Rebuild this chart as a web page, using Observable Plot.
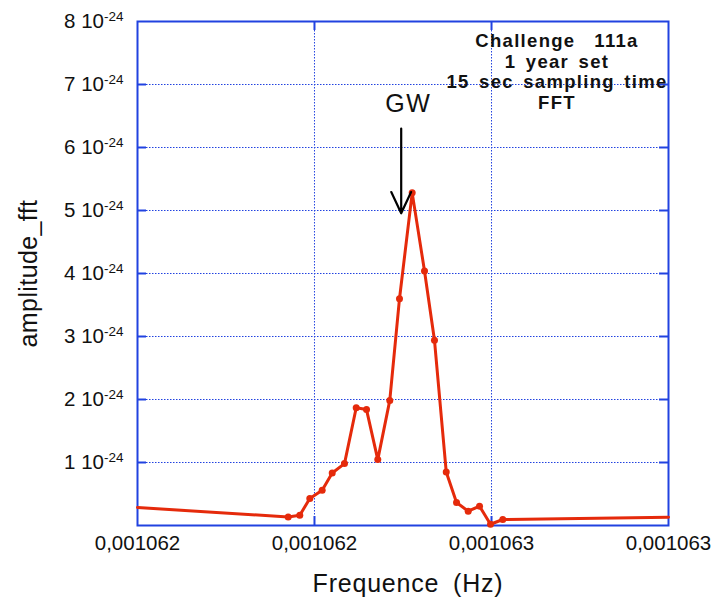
<!DOCTYPE html>
<html>
<head>
<meta charset="utf-8">
<script src="https://cdn.jsdelivr.net/npm/d3@7"></script>
<script src="https://cdn.jsdelivr.net/npm/@observablehq/plot@0.6"></script>
<style>
  html, body { margin: 0; padding: 0; background: #fff; }
  #chart svg { overflow: visible; }
</style>
</head>
<body>
<div id="chart"></div>
<script>
// ---- data ----
const xDomain = [0.001062, 0.001063];
const yDomain = [0, 8];
const xTicks = [0.001062, 0.0010623333, 0.0010626667, 0.001063];
const yTicks = [1, 2, 3, 4, 5, 6, 7, 8];
const yExponent = "-24";
const freq = [
  0.0010620000, 0.0010622838, 0.0010623056, 0.0010623245, 0.0010623478,
  0.0010623667, 0.0010623898, 0.0010624119, 0.0010624313, 0.0010624525,
  0.0010624751, 0.0010624934, 0.0010625173, 0.0010625405, 0.0010625593,
  0.0010625814, 0.0010626008, 0.0010626228, 0.0010626441, 0.0010626648,
  0.0010626879, 0.0010630000
];
// amplitude in units of 1e-24
const amplitude = [
  0.285, 0.136, 0.163, 0.428, 0.56,
  0.834, 0.983, 1.87, 1.84, 1.046,
  1.986, 3.60, 5.28, 4.04, 2.94,
  0.85, 0.365, 0.227, 0.306, 0.02,
  0.095, 0.13
];
const titleLines = ["Challenge  111a", "1 year set", "15 sec sampling time", "FFT"];
const titlePos = {x: 0.0010627900, y: 7.21};
const gwLabel = {x: 0.0010625100, y: 6.695, text: "GW"};
const gwArrow = {x: 0.0010624966, y1: 6.30, y2: 4.955};
const xLabel = "Frequence (Hz)";
const yLabel = "amplitude_fft";

// ---- styles ----
const blue = "#2142e0";
const red = "#e52a0b";
const font = "'Liberation Sans', Arial, Helvetica, sans-serif";

const data = freq.map((f, i) => ({f, a: amplitude[i]}));
const tickX = (xDomain[1] - xDomain[0]) * 9 / 531;
const tickY = (yDomain[1] - yDomain[0]) * 9 / 505;
const fmtX = d => d3.format(".6f")(d).replace(".", ",");

const plot = Plot.plot({
  width: 718,
  height: 600,
  marginLeft: 137,
  marginRight: 50,
  marginTop: 21,
  marginBottom: 75,
  style: {fontFamily: font, background: "#fff", color: "#111"},
  x: {domain: xDomain},
  y: {domain: yDomain},
  marks: [
    Plot.gridY(yTicks.slice(0, -1), {stroke: blue, strokeOpacity: 1, strokeWidth: 1, strokeDasharray: "1.5,1.5"}),
    Plot.gridX(xTicks.slice(1, -1), {stroke: blue, strokeOpacity: 1, strokeWidth: 1, strokeDasharray: "1.5,1.5"}),
    // inward tick marks
    Plot.ruleY(yTicks.slice(0, -1), {x1: xDomain[0], x2: xDomain[0] + tickX, stroke: blue, strokeWidth: 2}),
    Plot.ruleY(yTicks.slice(0, -1), {x1: xDomain[1] - tickX, x2: xDomain[1], stroke: blue, strokeWidth: 2}),
    Plot.ruleX(xTicks.slice(1, -1), {y1: yDomain[0], y2: yDomain[0] + tickY, stroke: blue, strokeWidth: 2}),
    Plot.ruleX(xTicks.slice(1, -1), {y1: yDomain[1] - tickY, y2: yDomain[1], stroke: blue, strokeWidth: 2}),
    Plot.frame({stroke: blue, strokeWidth: 2}),
    Plot.axisY(yTicks, {
      anchor: "left", tickSize: 0, tickPadding: 14, fontSize: 20.5,
      tickFormat: d => `${d} 10`,
      label: yLabel, labelAnchor: "center", labelArrow: "none", labelOffset: 118
    }),
    Plot.axisX(xTicks, {
      anchor: "bottom", tickSize: 0, tickPadding: 10, fontSize: 20.5,
      tickFormat: fmtX,
      label: xLabel, labelAnchor: "center", labelArrow: "none", labelOffset: 66
    }),
    Plot.line(data, {x: "f", y: "a", stroke: red, strokeWidth: 3}),
    Plot.dot(data.filter((d, i) => i > 0 && i < data.length - 1), {x: "f", y: "a", fill: red, r: 3.5}),
    Plot.arrow([gwArrow], {x1: "x", x2: "x", y1: "y1", y2: "y2", stroke: "#000", strokeWidth: 2.2, headLength: 16, headAngle: 50}),
    Plot.text([gwLabel], {x: "x", y: "y", text: "text", fontSize: 25, fill: "#111"}),
    Plot.text([titleLines.join("\n")], {x: () => titlePos.x, y: () => titlePos.y, text: d => d, fontSize: 18.5, fontWeight: "bold", lineHeight: 1.12, fill: "#111"})
  ]
});

// superscript exponents on y tick labels
d3.select(plot).selectAll('[aria-label="y-axis tick label"] text').each(function() {
  d3.select(this).append("tspan").attr("dy", "-0.5em").attr("font-size", 13.5).text(yExponent);
});
// axis titles
d3.select(plot).selectAll('[aria-label="y-axis label"] text')
  .attr("font-size", 25).style("letter-spacing", "0.4px");
d3.select(plot).selectAll('[aria-label="x-axis label"] text')
  .attr("font-size", 25).style("letter-spacing", "0.8px").style("word-spacing", "6px")
  .attr("transform", function() { return (this.getAttribute("transform") || "") + " translate(5,0)"; });
// annotation text spacing
d3.select(plot).selectAll('[aria-label="text"] text').each(function() {
  const t = d3.select(this);
  if (this.textContent === gwLabel.text) t.style("letter-spacing", "1.5px");
  else t.style("letter-spacing", "1.3px").style("word-spacing", "3px");
});

document.getElementById("chart").appendChild(plot);
</script>
</body>
</html>
